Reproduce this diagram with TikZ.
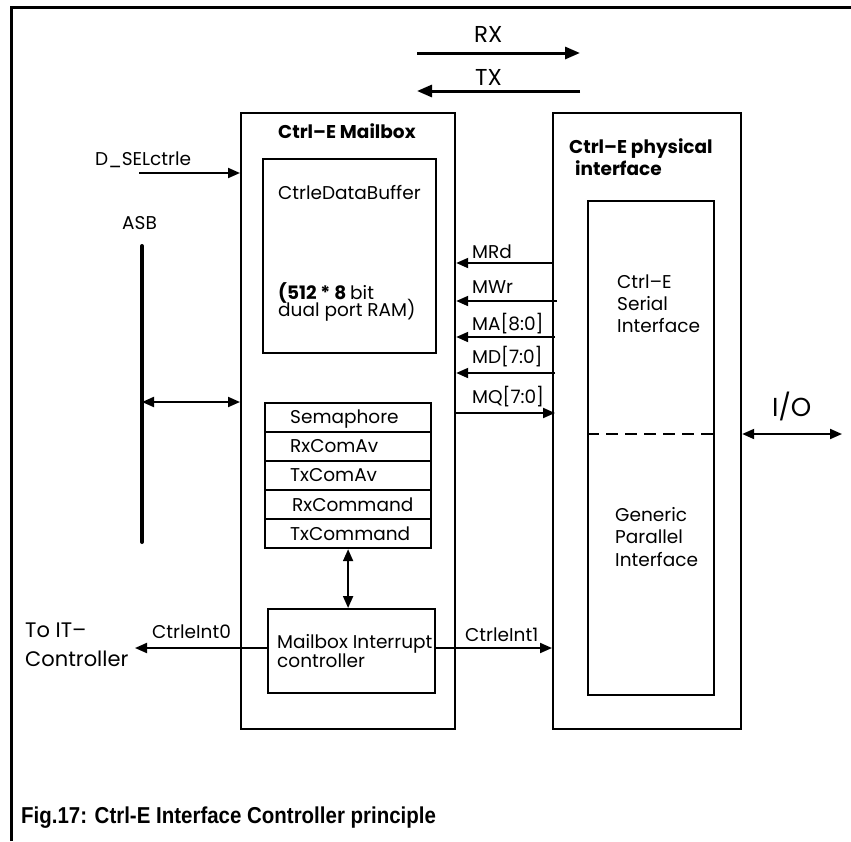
\documentclass[tikz,border=0pt]{standalone}
\usepackage{fontspec}
\setmainfont{Poppins}
\newfontfamily\capfont[FakeStretch=0.89]{Liberation Sans}
\usetikzlibrary{arrows.meta}
\tikzset{
  box/.style={draw, line width=2.2pt, anchor=north west, inner sep=0pt},
  reg/.style={draw, line width=2.2pt, anchor=north west, inner sep=0pt, minimum width=166pt, minimum height=29pt},
  lbl/.style={anchor=base west, inner sep=0pt, font=\fontsize{18.5}{20}\selectfont},
  ttl/.style={anchor=base west, inner sep=0pt, font=\fontsize{18.5}{20}\selectfont\bfseries},
  big/.style={anchor=base west, inner sep=0pt, font=\fontsize{23}{25}\selectfont},
  mid/.style={anchor=base west, inner sep=0pt, font=\fontsize{21}{23}\selectfont},
  arr/.style={line width=2pt, -{Triangle[length=12pt,width=10pt]}},
  darr/.style={line width=2pt, {Triangle[length=12pt,width=10pt]}-{Triangle[length=12pt,width=10pt]}},
  bigarr/.style={line width=3pt, -{Triangle[length=15pt,width=12pt]}},
}
\begin{document}
\begin{tikzpicture}[x=1pt,y=-1pt]
\useasboundingbox[fill=white] (0,0) rectangle (851,841);
% frame
\coordinate (fl) at (11,841);
\coordinate (fc) at (11,7);
\coordinate (fr) at (851,7);
\draw[line width=3pt] (fl) -- (fc) -- (fr);

% RX / TX
\node[big] (rxl) at (474,42) {RX};
\node[big] (txl) at (475,85) {TX};
\coordinate (rxa) at (417,53); \coordinate (rxb) at (580,53);
\coordinate (txa) at (580,91); \coordinate (txb) at (417,91);
\draw[bigarr] (rxa) -- (rxb);
\draw[bigarr] (txa) -- (txb);

% mailbox
\node[box, minimum width=214pt, minimum height=616pt] (mbox) at (240,112) {};
\node[ttl] (mboxt) at (278,138) {Ctrl–E Mailbox};
\node[box, minimum width=173pt, minimum height=194pt] (buf) at (262,158) {};
\node[lbl] (buft) at (278,199) {CtrleDataBuffer};
\node[lbl] (bufa) at (278,299) {\bfseries(512 * 8 \mdseries bit};
\node[lbl] (bufb) at (278,316) {dual port RAM)};

\node[reg] (r1) at (264,402) {};
\node[reg] (r2) at (264,431) {};
\node[reg] (r3) at (264,460) {};
\node[reg] (r4) at (264,489) {};
\node[reg] (r5) at (264,518) {};
\node[lbl] at (290,423) {Semaphore};
\node[lbl] at (290,452) {RxComAv};
\node[lbl] at (290,481) {TxComAv};
\node[lbl] at (292,511) {RxCommand};
\node[lbl] at (290,540) {TxCommand};

\node[box, minimum width=167pt, minimum height=84pt] (intc) at (267,608) {};
\node[lbl] (intt1) at (277,648) {Mailbox Interrupt};
\node[lbl] (intt2) at (277,667) {controller};
\draw[darr] (r5.south) -- (intc.north -| r5.south);

% physical interface
\node[box, minimum width=188pt, minimum height=616pt] (phys) at (552,112) {};
\node[ttl] (physt1) at (569,153) {Ctrl–E physical};
\node[ttl] (physt2) at (575,175) {interface};
\node[box, minimum width=126pt, minimum height=494pt] (ser) at (587,200) {};
\draw[line width=2.2pt, dash pattern=on 12pt off 7pt] (ser.west |- 0,434) -- (ser.east |- 0,434);
\node[lbl] at (617,288) {Ctrl–E};
\node[lbl] at (617,310) {Serial};
\node[lbl] at (617,332) {Interface};
\node[lbl] at (615,521) {Generic};
\node[lbl] at (615,543) {Parallel};
\node[lbl] at (615,566) {Interface};

% signals between physical and mailbox
\node[lbl] (mrd) at (472,258) {MRd};
\node[lbl] (mwr) at (472,293) {MWr};
\node[lbl] (ma) at (472,330) {MA[8:0]};
\node[lbl] (md) at (472,363) {MD[7:0]};
\node[lbl] (mq) at (472,403) {MQ[7:0]};
\draw[arr] (phys.west |- 0,263) -- (mbox.east |- 0,263);
\draw[arr] ([xshift=5pt]phys.west |- 0,301) -- (mbox.east |- 0,301);
\draw[arr] ([xshift=3pt]phys.west |- 0,337) -- (mbox.east |- 0,337);
\draw[arr] ([xshift=3pt]phys.west |- 0,373) -- (mbox.east |- 0,373);
\draw[arr] (mbox.east |- 0,413) -- ([xshift=3pt]phys.west |- 0,413);

% I/O
\node[anchor=base west, inner sep=0pt, font=\fontsize{26}{28}\selectfont] (io) at (772,416) {I/O};
\coordinate (ioend) at (842,434);
\draw[darr] (phys.east |- ioend) -- (ioend);

% left side
\node[lbl] (dsel) at (95,165) {D\_SELctrle};
\coordinate (dsels) at (139,173);
\draw[arr] (dsels) -- (mbox.west |- dsels);
\node[lbl] (asbt) at (122,229) {ASB};
\coordinate (asbtop) at (142,246);
\coordinate (asbbot) at (142,542);
\draw[line width=4pt, line cap=round] (asbtop) -- (asbbot);
\draw[darr] (142,402) -- (mbox.west |- 0,402);

\node[mid] (toit1) at (25,637) {To IT–};
\node[mid] (toit2) at (25,666) {Controller};
\node[lbl] (ci0) at (152,638) {CtrleInt0};
\coordinate (ci0end) at (135,648);
\draw[arr] (intc.west |- ci0end) -- (ci0end);
\node[lbl] (ci1) at (465,641) {CtrleInt1};
\draw[arr] (intc.east |- 0,648) -- (phys.west |- 0,648);

% caption
\node[anchor=base west, inner sep=0pt, font=\capfont\fontsize{23}{25}\selectfont\bfseries] (cap) at (21,823) {Fig.17: Ctrl-E Interface Controller principle};
\end{tikzpicture}
\end{document}
